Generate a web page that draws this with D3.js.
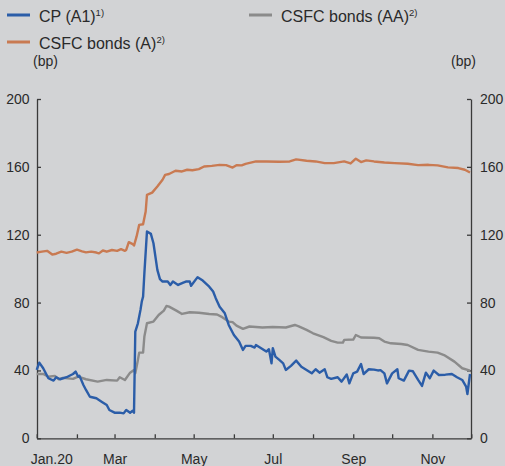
<!DOCTYPE html>
<html>
<head>
<meta charset="utf-8">
<script src="https://cdn.jsdelivr.net/npm/d3@7/dist/d3.min.js"></script>
<style>
  html, body { margin: 0; padding: 0; background: #d2d3d5; }
  svg { display: block; font-family: "Liberation Sans", Arial, sans-serif; }
</style>
</head>
<body>
<svg id="chart" width="505" height="466"></svg>
<script>
// ---------- data ----------
const cpDates = ["2020-01-01","2020-01-03","2020-01-06","2020-01-08","2020-01-10","2020-01-14","2020-01-16","2020-01-19","2020-01-24","2020-01-29","2020-01-31","2020-02-02","2020-02-03","2020-02-06","2020-02-08","2020-02-11","2020-02-16","2020-02-20","2020-02-24","2020-02-26","2020-03-01","2020-03-05","2020-03-08","2020-03-10","2020-03-13","2020-03-15","2020-03-16","2020-03-17","2020-03-19","2020-03-21","2020-03-22","2020-03-23","2020-03-24","2020-03-26","2020-03-29","2020-03-31","2020-04-03","2020-04-05","2020-04-07","2020-04-11","2020-04-13","2020-04-15","2020-04-19","2020-04-23","2020-04-25","2020-04-28","2020-04-29","2020-05-04","2020-05-08","2020-05-13","2020-05-16","2020-05-18","2020-05-21","2020-05-25","2020-05-28","2020-06-01","2020-06-05","2020-06-08","2020-06-10","2020-06-14","2020-06-17","2020-06-18","2020-06-22","2020-06-26","2020-06-28","2020-06-30","2020-07-01","2020-07-03","2020-07-06","2020-07-09","2020-07-11","2020-07-15","2020-07-19","2020-07-23","2020-07-27","2020-07-31","2020-08-03","2020-08-06","2020-08-10","2020-08-12","2020-08-15","2020-08-20","2020-08-23","2020-08-27","2020-08-29","2020-09-01","2020-09-04","2020-09-07","2020-09-09","2020-09-13","2020-09-17","2020-09-20","2020-09-22","2020-09-25","2020-09-27","2020-10-01","2020-10-05","2020-10-06","2020-10-10","2020-10-14","2020-10-17","2020-10-21","2020-10-24","2020-10-27","2020-10-30","2020-11-02","2020-11-06","2020-11-11","2020-11-16","2020-11-20","2020-11-24","2020-11-27","2020-11-28","2020-11-30"];
const cpValues = [40.3,44.6,41.3,38.3,35.4,34,36,34.8,36,37.9,39.3,36.3,36.8,31.4,28.5,24.5,23.6,21.6,19.6,16.7,15.1,15.1,14.7,16.7,15.1,16.3,15.1,62.9,67.8,75.7,80.6,83.5,97.3,121.9,120.5,115,99.3,93.8,92.4,92.4,90.4,92.4,90.4,91.8,92.4,92.4,89.9,95,93,89.4,86.5,82.6,77.6,73.7,66.8,60.9,57,52.1,54.5,54.5,53.5,55,53.1,51.1,52.5,44.2,53.1,48.1,46.2,44.2,40.3,42.7,45.8,42.2,40.3,38.3,40.7,38.7,40.7,36,35,36,33.4,37.6,32.4,38.3,39.3,43.8,37.9,40.7,40.5,40,40.2,38.3,32.4,38.3,40.7,35.4,34,39.9,39.5,34.4,30.9,38.7,35.4,39.9,37.3,37.5,37.9,36,34.4,30.5,26.1,37.9];

const bondsADates = ["2020-01-01","2020-01-05","2020-01-09","2020-01-13","2020-01-16","2020-01-20","2020-01-24","2020-01-28","2020-02-01","2020-02-05","2020-02-08","2020-02-12","2020-02-16","2020-02-18","2020-02-21","2020-02-24","2020-02-28","2020-03-03","2020-03-06","2020-03-09","2020-03-10","2020-03-12","2020-03-15","2020-03-16","2020-03-18","2020-03-20","2020-03-23","2020-03-25","2020-03-26","2020-03-30","2020-04-03","2020-04-07","2020-04-09","2020-04-12","2020-04-17","2020-04-22","2020-04-26","2020-04-30","2020-05-05","2020-05-09","2020-05-15","2020-05-21","2020-05-26","2020-05-31","2020-06-03","2020-06-07","2020-06-10","2020-06-18","2020-06-26","2020-07-06","2020-07-14","2020-07-19","2020-07-27","2020-08-03","2020-08-10","2020-08-17","2020-08-25","2020-08-30","2020-09-03","2020-09-07","2020-09-11","2020-09-17","2020-09-25","2020-10-03","2020-10-13","2020-10-21","2020-10-29","2020-11-05","2020-11-13","2020-11-21","2020-11-26","2020-11-30"];
const bondsAValues = [109.5,110,110.5,108.3,108.8,110,109.3,110,111.2,110.2,109.6,110,109.5,109,110.7,110,111,110.5,111.5,110.5,111,115.6,114.5,113.6,119,125.8,126.2,133.7,143.5,144.8,148.4,152.4,155.3,155.8,157.7,157.3,158.3,158,158.7,160.2,160.6,161.2,161,159.6,161,160.9,161.8,163.2,163.2,163,163.2,164.4,163.6,163.2,162.2,162.2,163.2,162,164.8,162.8,163.8,163.2,162.6,162.2,161.8,161,161.2,160.9,159.7,159.3,158.3,156.7];

const bondsAADates = ["2020-01-01","2020-01-06","2020-01-10","2020-01-15","2020-01-18","2020-01-21","2020-01-29","2020-02-02","2020-02-08","2020-02-17","2020-02-24","2020-03-03","2020-03-05","2020-03-09","2020-03-13","2020-03-16","2020-03-17","2020-03-19","2020-03-20","2020-03-23","2020-03-24","2020-03-26","2020-03-31","2020-04-04","2020-04-08","2020-04-10","2020-04-12","2020-04-18","2020-04-22","2020-04-28","2020-05-05","2020-05-13","2020-05-19","2020-05-23","2020-05-28","2020-05-31","2020-06-03","2020-06-08","2020-06-13","2020-06-23","2020-07-01","2020-07-11","2020-07-18","2020-07-21","2020-07-27","2020-08-01","2020-08-09","2020-08-15","2020-08-20","2020-08-24","2020-08-25","2020-09-01","2020-09-03","2020-09-07","2020-09-17","2020-09-21","2020-09-25","2020-09-30","2020-10-08","2020-10-13","2020-10-21","2020-10-29","2020-11-05","2020-11-10","2020-11-18","2020-11-24","2020-11-30"];
const bondsAAValues = [37.9,38,36.3,36.8,34.8,35.6,35,36.3,34.8,33.4,34.4,34,36,34.4,38.7,40.3,38.3,46.2,50.5,50.5,60,67.8,68.8,72.7,75.3,78,77.6,75.1,73.3,74.3,74,73.3,73,71.4,68.8,68.5,66.4,64.5,65.9,65.3,65.6,65.3,66.8,66,63.9,61.9,59.6,57.4,56.4,56.4,58,58.2,60.9,59.4,59.3,59,57,56,55.6,55,52.1,51.1,50.5,49.1,45.2,41.3,39.9];

const yTicks = [0, 40, 80, 120, 160, 200];
const monthLabels = ["Jan.20", "", "Mar", "", "May", "", "Jul", "", "Sep", "", "Nov", ""];
const seriesNames = ["CP (A1)", "CSFC bonds (A)", "CSFC bonds (AA)"];
const seriesNotes = ["1)", "2)", "2)"];
const unitLabel = "(bp)";

// ---------- drawing ----------
const colors = ["#2b5da8", "#c97a52", "#8b8b8b"];
const axisColor = "#3a3a3a";
const textColor = "#2a2a2a";
const svg = d3.select("#chart");
const parse = d3.timeParse("%Y-%m-%d");

const x = d3.scaleTime()
  .domain([new Date(2020, 0, 1), new Date(2020, 11, 1)])
  .range([36.7, 471.3]);
const y = d3.scaleLinear().domain([0, 200]).range([438.3, 99]);

const series = [
  { dates: cpDates, values: cpValues },
  { dates: bondsADates, values: bondsAValues },
  { dates: bondsAADates, values: bondsAAValues }
].map(s => s.dates.map((d, i) => ({ date: parse(d), value: s.values[i] })));

// Axes
function styleAxis(g) {
  g.selectAll(".domain").attr("stroke", axisColor).attr("stroke-width", 1.3);
  g.selectAll(".tick line").attr("stroke", axisColor).attr("stroke-width", 1.3);
  g.selectAll(".tick text").attr("fill", textColor).style("font-size", "14px")
    .style("font-family", '"Liberation Sans", Arial, sans-serif');
}

const gLeft = svg.append("g").attr("transform", "translate(37,0)")
  .call(d3.axisLeft(y).tickValues(yTicks).tickSize(-4).tickSizeOuter(0).tickPadding(7.5));
styleAxis(gLeft);

const gRight = svg.append("g").attr("transform", "translate(471,0)")
  .call(d3.axisRight(y).tickValues(yTicks).tickSize(-4).tickSizeOuter(0).tickPadding(9));
styleAxis(gRight);

const months = d3.timeMonth.range(new Date(2020, 0, 1), new Date(2020, 11, 2));
const gBottom = svg.append("g").attr("transform", "translate(0,438.3)")
  .call(d3.axisBottom(x).tickValues(months).tickSize(-4).tickSizeOuter(0).tickPadding(16)
    .tickFormat((d, i) => monthLabels[i] || ""));
styleAxis(gBottom);
gBottom.selectAll(".tick text").filter((d, i) => i === 0)
  .attr("text-anchor", "start").attr("x", -6.5);

// Lines (draw grey, orange then blue on top)
const line = d3.line().x(d => x(d.date)).y(d => y(d.value)).curve(d3.curveLinear);
[2, 1, 0].forEach(k => {
  svg.append("path").datum(series[k])
    .attr("fill", "none")
    .attr("stroke", colors[k])
    .attr("stroke-width", 2.4)
    .attr("stroke-linejoin", "round")
    .attr("d", line);
});

// Legend
const legendPos = [{ x: 7, y: 15 }, { x: 7, y: 42 }, { x: 249, y: 15 }];
seriesNames.forEach((name, k) => {
  const p = legendPos[k];
  svg.append("line")
    .attr("x1", p.x).attr("x2", p.x + 23).attr("y1", p.y).attr("y2", p.y)
    .attr("stroke", colors[k]).attr("stroke-width", 3);
  const t = svg.append("text")
    .attr("x", p.x + 32).attr("y", p.y + 6.5)
    .attr("fill", textColor).style("font-size", "16px");
  t.append("tspan").text(name);
  t.append("tspan").attr("dy", -6).style("font-size", "9.5px").text(seriesNotes[k]);
});

// Units
svg.append("text").attr("x", 33).attr("y", 66).attr("fill", textColor)
  .style("font-size", "14px").text(unitLabel);
svg.append("text").attr("x", 476).attr("y", 66).attr("text-anchor", "end").attr("fill", textColor)
  .style("font-size", "14px").text(unitLabel);
</script>
</body>
</html>
